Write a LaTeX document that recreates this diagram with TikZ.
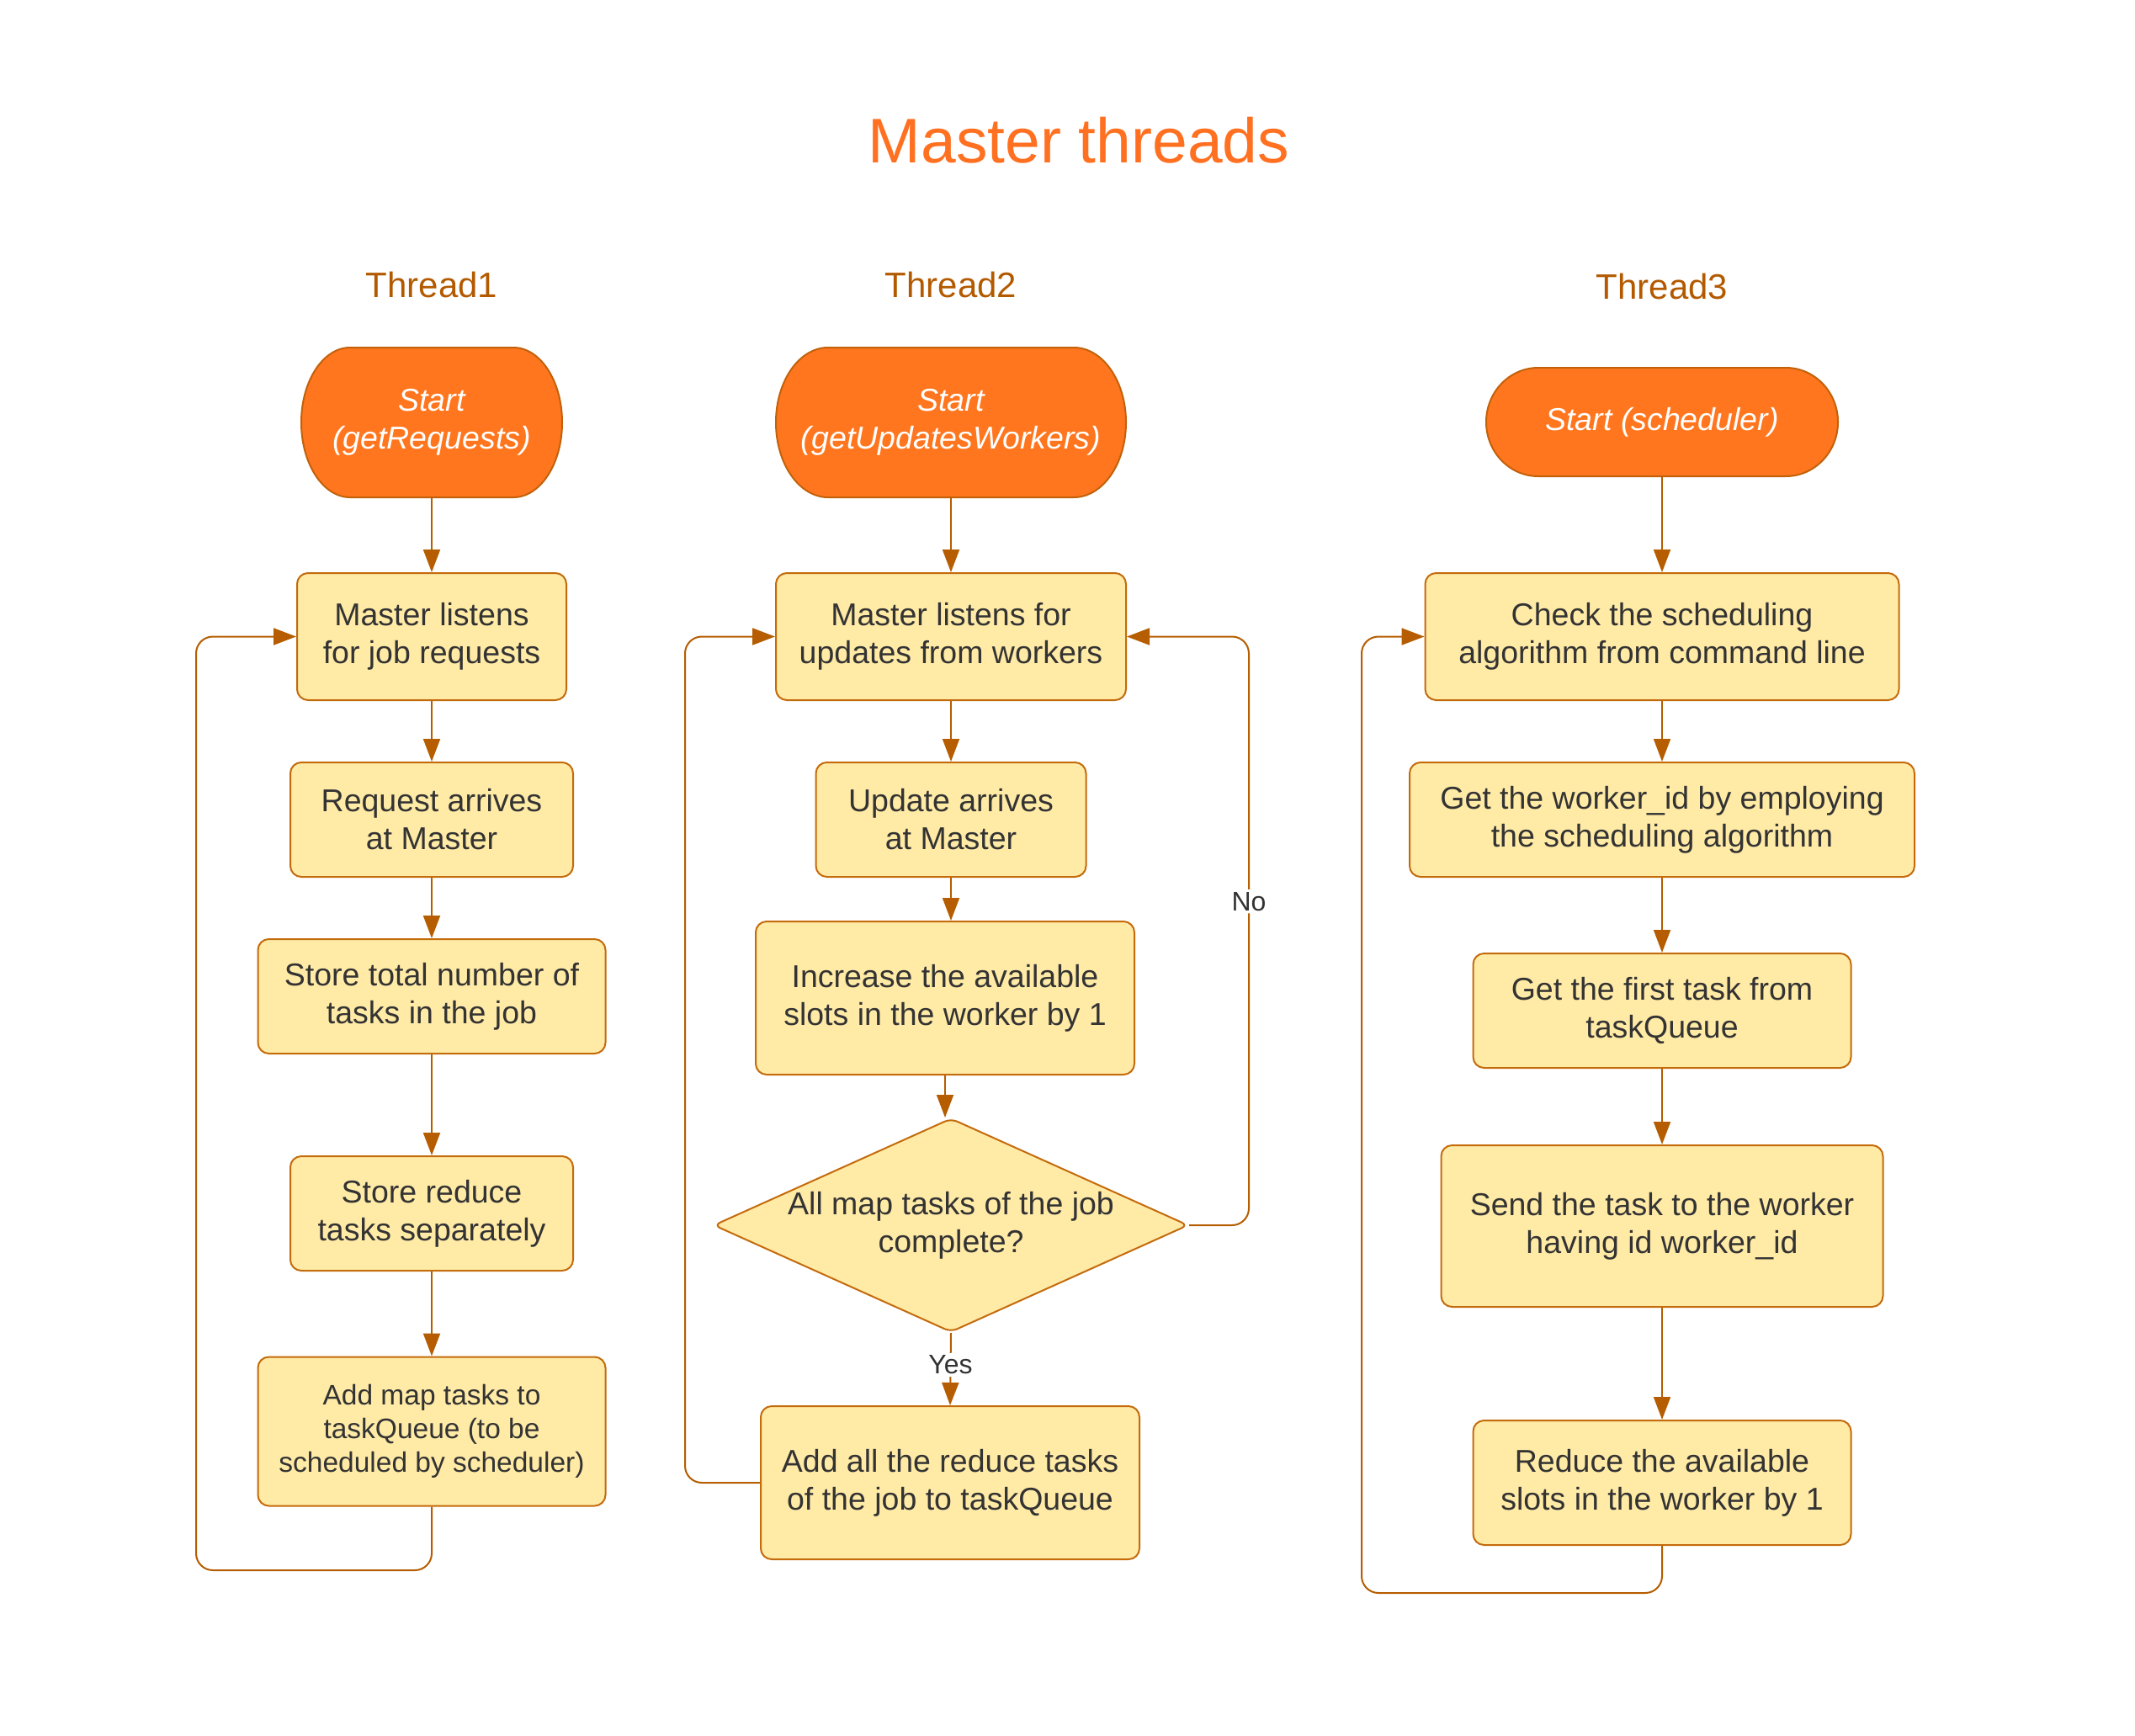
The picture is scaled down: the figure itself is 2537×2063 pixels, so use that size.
\documentclass[tikz,border=0pt]{standalone}
\usepackage{fontspec}
\setmainfont{Liberation Sans}
\usetikzlibrary{arrows.meta,shapes.geometric}
\definecolor{startfill}{HTML}{FF761E}
\definecolor{startline}{HTML}{C2610A}
\definecolor{boxfill}{HTML}{FFEAA6}
\definecolor{boxline}{HTML}{C46B0C}
\definecolor{flowcol}{HTML}{B55D00}
\definecolor{txt}{HTML}{333333}
\definecolor{titlecol}{HTML}{FF7020}
\definecolor{headcol}{HTML}{B35A00}
\newcommand\startshape[5]{%
 \pgfmathsetmacro\sxa{#1+#5}\pgfmathsetmacro\sxb{#3-#5}%
 \pgfmathsetmacro\sym{(#2+#4)/2}\pgfmathsetmacro\sry{(#4-#2)/2}%
 \pgfmathsetmacro\skx{0.5523*#5}\pgfmathsetmacro\sky{0.5523*\sry}%
 \draw[startpath] (\sxa,#2) -- (\sxb,#2)
   .. controls (\sxb+\skx,#2) and (#3,\sym-\sky) .. (#3,\sym)
   .. controls (#3,\sym+\sky) and (\sxb+\skx,#4) .. (\sxb,#4)
   -- (\sxa,#4)
   .. controls (\sxa-\skx,#4) and (#1,\sym+\sky) .. (#1,\sym)
   .. controls (#1,\sym-\sky) and (\sxa-\skx,#2) .. cycle;}
\begin{document}
\begin{tikzpicture}[x=1pt,y=-1pt,
  startpath/.style={draw=startline, fill=startfill, line width=2pt},
  startnode/.style={align=center, text=white, font=\itshape\fontsize{37.5}{45}\selectfont, inner sep=0pt},
  sz/.style 2 args={minimum width=#1pt, minimum height=#2pt},
  box/.style={draw=boxline, fill=boxfill, line width=2pt, rounded corners=13pt, align=center, text=txt, font=\fontsize{37.5}{45}\selectfont, inner sep=0pt},
  smallbox/.style={box, font=\fontsize{33.5}{40}\selectfont},
  flow/.style={draw=flowcol, line width=2pt, -{Triangle[length=27pt,width=20pt]}},
  lab/.style={fill=white, text=txt, font=\fontsize{32}{38}\selectfont, inner sep=3pt},
  head/.style={text=headcol, font=\fontsize{42}{50}\selectfont},
  dtext/.style={align=center, text=txt, font=\fontsize{37.5}{45}\selectfont}
]
\useasboundingbox (0,0) rectangle (2537,2063);
\fill[white] (0,0) rectangle (2537,2063);

\node[text=titlecol, font=\fontsize{75}{90}\selectfont] (title) at (1282,167) {Master threads};
\node[head] (h1) at (513,338) {Thread1};
\node[head] (h2) at (1130,338) {Thread2};
\node[head] (h3) at (1975,340) {Thread3};

% start shapes
\startshape{358}{413}{668}{591}{58}
\startshape{922}{413}{1338}{591}{62}
\startshape{1766}{437}{2184}{566}{62}
\node[startnode, sz={310}{178}] (s1) at (513,502) {Start\\(getRequests)};
\node[startnode, sz={416}{178}] (s2) at (1130,502) {Start\\(getUpdatesWorkers)};
\node[startnode, sz={418}{129}] (s3) at (1975,501.5) {Start (scheduler)};

% thread 1
\node[box, sz={320}{151}] (a1) at (513,756.5) {Master listens\\for job requests};
\node[box, sz={336}{136}] (a2) at (513,974) {Request arrives\\at Master};
\node[box, sz={413}{136}] (a3) at (513,1184) {Store total number of\\tasks in the job};
\node[box, sz={336}{136}] (a4) at (513,1442) {Store reduce\\tasks separately};
\node[smallbox, sz={413}{177}] (a5) at (513,1701) {Add map tasks to\\taskQueue (to be\\scheduled by scheduler)};

% thread 2
\node[box, sz={416}{151}] (b1) at (1130,756.5) {Master listens for\\updates from workers};
\node[box, sz={321}{136}] (b2) at (1130,974) {Update arrives\\at Master};
\node[box, sz={450}{182}] (b3) at (1123,1186) {Increase the available\\slots in the worker by 1};
\node[shape=diamond, draw=boxline, fill=boxfill, line width=2pt, rounded corners=8pt,
      minimum width=564pt, minimum height=254pt, inner sep=0pt,
      label={[dtext]center:{All map tasks of the job\\complete?}}] (d) at (1130,1456) {};
\node[box, sz={450}{182}] (b4) at (1129,1762) {Add all the reduce tasks\\of the job to taskQueue};

% thread 3
\node[box, sz={563}{151}] (c1) at (1975,756.5) {Check the scheduling\\algorithm from command line};
\node[box, sz={600}{136}] (c2) at (1975,974) {Get the worker\_id by employing\\the scheduling algorithm};
\node[box, sz={449}{136}] (c3) at (1975,1201) {Get the first task from\\taskQueue};
\node[box, sz={525}{192}] (c4) at (1975,1457) {Send the task to the worker\\having id worker\_id};
\node[box, sz={449}{148}] (c5) at (1975,1762) {Reduce the available\\slots in the worker by 1};

% connectors thread 1
\draw[flow] (s1.south) -- (a1.north);
\draw[flow] (a1.south) -- (a2.north);
\draw[flow] (a2.south) -- (a3.north);
\draw[flow] (a3.south) -- (a4.north);
\draw[flow] (a4.south) -- (a5.north);
\coordinate (l1) at (233,1866);
\draw[flow, rounded corners=20pt] (a5.south) |- (l1) |- (a1.west);

% connectors thread 2
\draw[flow] (s2.south) -- (b1.north);
\draw[flow] (b1.south) -- (b2.north);
\draw[flow] (b2.south) -- (b2.south |- b3.north);
\draw[flow] (b3.south) -- (b3.south |- d.north);
\draw[flow] (d.south) -- node[lab, pos=0.44] {Yes} (b4.north);
\coordinate (l2) at (814,1762);
\draw[flow, rounded corners=20pt] (b4.west) -- (l2) |- (b1.west);
\coordinate (nx) at (1484,1456);
\draw[flow, rounded corners=20pt] (d.east) -- (nx) |- node[lab, pos=0.275] {No} (b1.east);

% connectors thread 3
\draw[flow] (s3.south) -- (c1.north);
\draw[flow] (c1.south) -- (c2.north);
\draw[flow] (c2.south) -- (c3.north);
\draw[flow] (c3.south) -- (c4.north);
\draw[flow] (c4.south) -- (c5.north);
\coordinate (l3) at (1618,1893);
\draw[flow, rounded corners=20pt] (c5.south) |- (l3) |- (c1.west);
\end{tikzpicture}
\end{document}
